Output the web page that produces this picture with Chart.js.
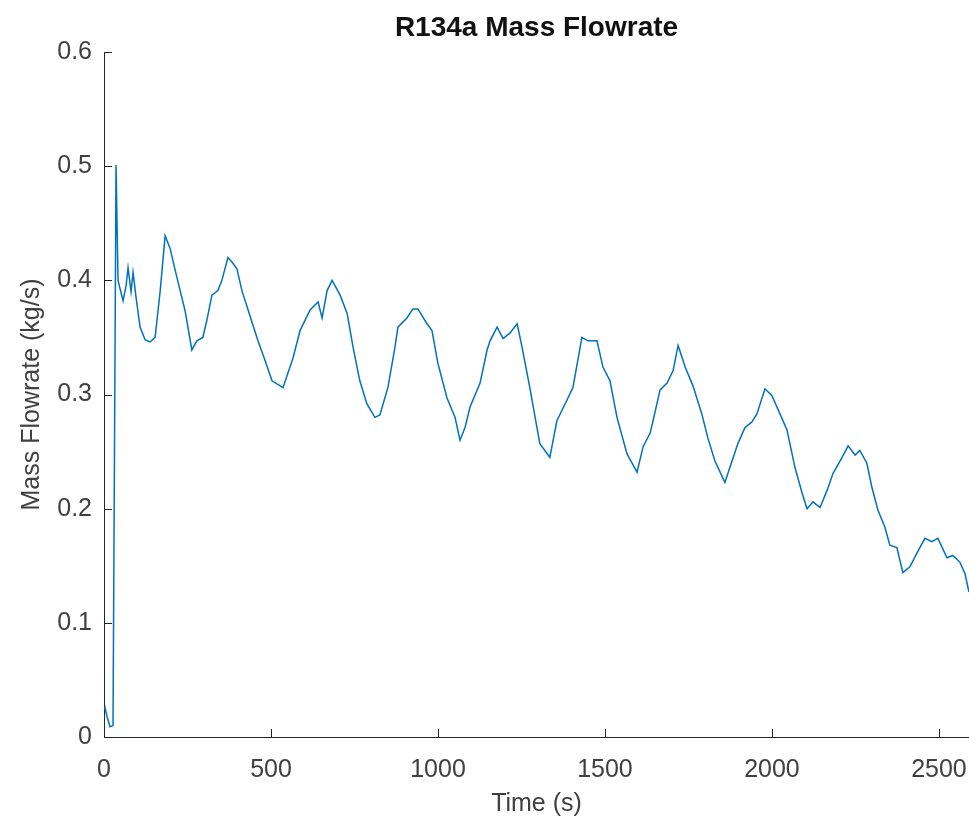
<!DOCTYPE html>
<html>
<head>
<meta charset="utf-8">
<script src="https://cdn.jsdelivr.net/npm/chart.js@4/dist/chart.umd.min.js"></script>
<style>
  html, body { margin: 0; padding: 0; background: #fff; }
  #wrap { width: 969px; height: 825px; }
</style>
</head>
<body>
<div id="wrap"><canvas id="chart" width="969" height="825"></canvas></div>
<script>
  // Time samples (s)
  const timeS = [
    0, 3, 9, 18, 27, 36, 42, 57, 66, 72, 81, 87, 96, 108, 123, 138, 153, 168,
    183, 198, 213, 228, 243, 263, 278, 296, 308, 323, 341, 353, 371, 383, 398,
    413, 437, 461, 482, 503, 536, 566, 587, 617, 641, 653, 668, 683, 707, 728,
    746, 766, 787, 811, 826, 850, 871, 880, 907, 925, 940, 967, 982, 1000, 1027,
    1051, 1066, 1081, 1096, 1126, 1147, 1156, 1177, 1195, 1216, 1237, 1252,
    1275, 1305, 1335, 1356, 1386, 1404, 1431, 1449, 1476, 1494, 1515, 1536,
    1566, 1596, 1614, 1635, 1644, 1665, 1686, 1704, 1719, 1740, 1763, 1790,
    1808, 1829, 1859, 1874, 1898, 1919, 1940, 1955, 1979, 2000, 2024, 2045,
    2069, 2090, 2105, 2123, 2144, 2165, 2183, 2210, 2228, 2249, 2263, 2284,
    2299, 2317, 2338, 2353, 2374, 2392, 2413, 2434, 2458, 2479, 2497, 2524,
    2542, 2563, 2578, 2590
  ];

  // R134a mass flowrate (kg/s)
  const massFlow = [
    0.024, 0.026, 0.018, 0.009, 0.010, 0.501, 0.400, 0.382, 0.395, 0.411, 0.390,
    0.407, 0.385, 0.359, 0.348, 0.346, 0.350, 0.390, 0.439, 0.428, 0.409, 0.391,
    0.373, 0.339, 0.347, 0.350, 0.365, 0.387, 0.391, 0.400, 0.420, 0.416, 0.410,
    0.391, 0.369, 0.347, 0.330, 0.312, 0.306, 0.332, 0.356, 0.374, 0.381, 0.367,
    0.391, 0.400, 0.387, 0.371, 0.341, 0.312, 0.292, 0.280, 0.282, 0.306, 0.341,
    0.359, 0.367, 0.375, 0.375, 0.362, 0.356, 0.327, 0.297, 0.280, 0.260, 0.271,
    0.289, 0.310, 0.339, 0.347, 0.359, 0.349, 0.354, 0.362, 0.341, 0.306, 0.257,
    0.245, 0.277, 0.295, 0.306, 0.350, 0.347, 0.347, 0.324, 0.312, 0.280, 0.248,
    0.232, 0.254, 0.266, 0.277, 0.304, 0.310, 0.321, 0.343, 0.324, 0.308, 0.283,
    0.262, 0.242, 0.223, 0.236, 0.257, 0.271, 0.276, 0.283, 0.305, 0.299, 0.283,
    0.269, 0.236, 0.214, 0.200, 0.206, 0.201, 0.216, 0.231, 0.245, 0.255, 0.247,
    0.251, 0.240, 0.219, 0.199, 0.184, 0.168, 0.166, 0.144, 0.149, 0.161, 0.174,
    0.171, 0.174, 0.157, 0.159, 0.153, 0.143, 0.127
  ];

  const xTicks = [0, 500, 1000, 1500, 2000, 2500];
  const yTicks = [0, 0.1, 0.2, 0.3, 0.4, 0.5, 0.6];

  const axisColor = '#262626';
  const labelColor = '#404040';
  const fontFamily = 'Liberation Sans, Arial, sans-serif';

  // MATLAB style ticks pointing into the plot
  const innerTicks = {
    id: 'innerTicks',
    afterDraw(chart) {
      const { ctx, chartArea, scales } = chart;
      ctx.save();
      ctx.strokeStyle = axisColor;
      ctx.lineWidth = 1;
      ctx.beginPath();
      scales.x.ticks.forEach(t => {
        const px = Math.round(scales.x.getPixelForValue(t.value)) + 0.5;
        ctx.moveTo(px, chartArea.bottom);
        ctx.lineTo(px, chartArea.bottom - 8);
      });
      scales.y.ticks.forEach(t => {
        const py = Math.round(scales.y.getPixelForValue(t.value)) + 0.5;
        ctx.moveTo(chartArea.left, py);
        ctx.lineTo(chartArea.left + 8, py);
      });
      ctx.stroke();
      ctx.restore();
    }
  };

  new Chart(document.getElementById('chart'), {
    type: 'line',
    data: {
      datasets: [{
        data: timeS.map((t, i) => ({ x: t, y: massFlow[i] })),
        borderColor: '#0072BD',
        borderWidth: 1.5,
        pointRadius: 0,
        tension: 0,
        fill: false
      }]
    },
    options: {
      responsive: false,
      animation: false,
      layout: { padding: 0 },
      plugins: {
        legend: { display: false },
        tooltip: { enabled: false },
        title: {
          display: true,
          text: 'R134a Mass Flowrate',
          fullSize: false,
          color: '#111',
          font: { family: fontFamily, size: 28, weight: 'bold' },
          padding: { top: 11.2, bottom: 7.2 }
        }
      },
      scales: {
        x: {
          type: 'linear',
          min: 0,
          max: 2590,
          afterBuildTicks: s => { s.ticks = xTicks.map(v => ({ value: v })); },
          afterFit: s => { s.height = 88; s.paddingLeft = 0; s.paddingRight = 0; },
          grid: { display: false, drawTicks: false, tickLength: 0 },
          border: { display: true, color: axisColor, width: 1 },
          ticks: {
            color: labelColor,
            padding: 18,
            maxRotation: 0,
            callback: v => String(v),
            font: { family: fontFamily, size: 25 }
          },
          title: {
            display: true,
            text: 'Time (s)',
            color: labelColor,
            font: { family: fontFamily, size: 25 },
            padding: { top: 0, bottom: 6 }
          }
        },
        y: {
          min: 0,
          max: 0.6,
          afterBuildTicks: s => { s.ticks = yTicks.map(v => ({ value: v })); },
          afterFit: s => { s.width = 104; },
          grid: { display: false, drawTicks: false, tickLength: 0 },
          border: { display: true, color: axisColor, width: 1 },
          ticks: {
            color: labelColor,
            padding: 12,
            callback: v => String(Math.round(v * 10) / 10),
            font: { family: fontFamily, size: 25 }
          },
          title: {
            display: true,
            text: 'Mass Flowrate (kg/s)',
            color: labelColor,
            font: { family: fontFamily, size: 25 },
            padding: { top: 17, bottom: 0 }
          }
        }
      }
    },
    plugins: [innerTicks]
  });
</script>
</body>
</html>
